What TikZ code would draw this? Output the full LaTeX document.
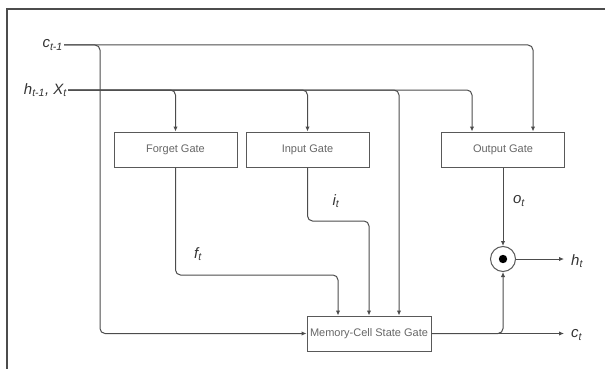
\documentclass[tikz,border=0pt]{standalone}
\usepackage{fontspec}
\setmainfont{Liberation Sans}
\usetikzlibrary{arrows.meta,positioning}

\begin{document}
\begin{tikzpicture}[x=1pt, y=-1pt,
		conn/.style={draw=black!70, line width=1pt, rounded corners=5pt},
		arr/.style={conn, -{Latex[length=5pt,width=4.5pt]}},
		gatebox/.style={draw=black!65, line width=1pt, minimum width=123pt, minimum height=35pt, inner sep=0pt, text=black!60, font=\fontsize{11}{13}\selectfont},
		lbl/.style={font=\fontsize{15}{17}\selectfont\itshape, text=black!80, inner sep=1pt}]
		\useasboundingbox (0,0) rectangle (605,369);
		\draw[black!70, line width=1.5pt] (7,369) -- (7,9) -- (605,9);
		% gates
		\node[gatebox] (forget) at (175.5,149.5) {Forget Gate};
		\node[gatebox] (input) at (307.5,149.5) {Input Gate};
		\node[gatebox] (output) at (503,149.5) {Output Gate};
		\node[gatebox, minimum width=124pt] (memory) at (369,333.5) {Memory-Cell State Gate};
		\node[circle, draw=black!65, line width=1pt, minimum size=25pt, inner sep=0pt] (mult) at (503,259) {};
		\fill[black] (mult.center) circle (4.2pt);
		% inputs and outputs
		\node[lbl, anchor=east] (cprev) at (64,45) {c\textsubscript{t-1}};
		\node[lbl, anchor=east] (hx) at (68,90) {h\textsubscript{t-1}, X\textsubscript{t}};
		\node[lbl, anchor=west] (ht) at (570,261) {h\textsubscript{t}};
		\node[lbl, anchor=west] (ct) at (570,335) {c\textsubscript{t}};
		\node[lbl] (ft) at (198,254) {f\textsubscript{t}};
		\node[lbl] (it) at (336,201) {i\textsubscript{t}};
		\node[lbl] (ot) at (519,201) {o\textsubscript{t}};
		\coordinate (cleft) at (100,0);
		\coordinate (fbend) at (0,275);
		\coordinate (ibend) at (0,221);
		\coordinate (o1) at ([xshift=-31pt]output.north);
		\coordinate (o2) at ([xshift=30pt]output.north);
		\coordinate (m1) at ([xshift=-31pt]memory.north);
		\coordinate (m3) at ([xshift=30pt]memory.north);
		% connectors
		\draw[arr] (cprev.east) -| (o2);
		\draw[arr] (cprev.east) -| (cleft |- memory.west) -- (memory.west);
		\draw[arr] (hx.east) -| (o1);
		\draw[arr] (hx.east) -| (forget.north);
		\draw[arr] (hx.east) -| (input.north);
		\draw[arr] (hx.east) -| (m3);
		\draw[arr] (forget.south) |- (m1 |- fbend) -- (m1);
		\draw[arr] (input.south) |- (memory.north |- ibend) -- (memory.north);
		\draw[arr] (output.south) -- (mult.north);
		\draw[arr] (mult.east) -- ([xshift=-6pt]mult.east -| ht.west);
		\draw[arr] (memory.east) -- ([xshift=-6pt]memory.east -| ct.west);
		\draw[arr] (memory.east) -| (mult.south);
	\end{tikzpicture}
\end{document}
